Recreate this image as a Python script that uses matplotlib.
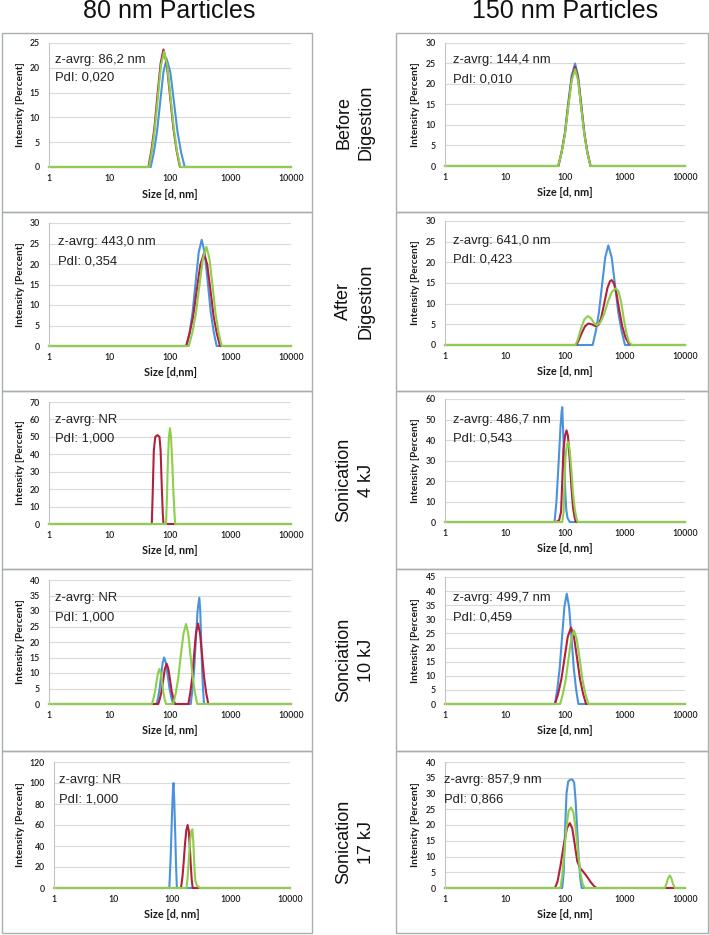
import matplotlib
matplotlib.use("Agg")
import matplotlib.pyplot as plt
from matplotlib.patches import Rectangle
from matplotlib.ticker import NullLocator, FixedLocator, FixedFormatter
from matplotlib import font_manager

# ---------------- data (size [d, nm], intensity [%]) ----------------
before80_blue = [(1, 0), (48, 0), (54, 2.9), (61, 7.1), (69, 13.2), (78, 19.2), (88, 21.8), (101, 19.2), (116, 13.2), (133, 7.1), (153, 2.9), (175, 0), (10000, 0)]
before80_red = [(1, 0), (44, 0), (49, 3.2), (55, 7.7), (62, 14.4), (70, 20.9), (78, 23.7), (88, 20.9), (100, 14.4), (114, 7.7), (129, 3.2), (146, 0), (10000, 0)]
before80_green = [(1, 0), (45, 0), (50, 3.1), (56, 7.6), (63, 14.1), (71, 20.5), (80, 23.3), (90, 20.5), (102, 14.1), (116, 7.6), (131, 3.1), (148, 0), (10000, 0)]

before150_blue = [(1, 0), (78, 0), (88, 3.4), (100, 8.1), (113, 15.2), (129, 22), (147, 25), (165, 22), (186, 15.2), (210, 8.1), (236, 3.4), (266, 0), (10000, 0)]
before150_red = [(1, 0), (77, 0), (87.5, 3.3), (99.5, 7.9), (113, 14.7), (129, 21.3), (147, 24.2), (165.5, 21.3), (186, 14.7), (210, 7.9), (236, 3.3), (266, 0), (10000, 0)]
before150_green = [(1, 0), (77, 0), (87.5, 3.2), (99.5, 7.7), (113, 14.3), (129, 20.8), (147, 23.6), (165.5, 20.8), (186, 14.3), (210, 7.7), (236, 3.2), (266, 0), (10000, 0)]

after80_blue = [(1, 0), (189, 0), (212, 3.5), (237, 8.4), (266, 15.7), (298, 22.8), (334, 25.9), (374, 22.8), (420, 15.7), (470, 8.4), (527, 3.5), (590, 0), (10000, 0)]
after80_red = [(1, 0), (184, 0), (211, 3.1), (242, 7.3), (277, 13.7), (318, 19.9), (365, 22.6), (412, 19.9), (466, 13.7), (525, 7.3), (593, 3.1), (670, 0), (10000, 0)]
after80_green = [(1, 0), (205, 0), (234, 3.3), (268, 7.9), (306, 14.7), (350, 21.3), (400, 24.2), (449, 21.3), (505, 14.7), (566, 7.9), (637, 3.3), (715, 0), (10000, 0)]

after150_blue = [(1, 0), (289, 0), (326, 3.3), (367, 7.8), (415, 14.6), (468, 21.2), (527, 24.1), (600, 21.2), (681, 14.6), (774, 7.8), (880, 3.3), (1000, 0), (10000, 0)]
after150_red = [(1, 0), (155, 0), (170, 1.2), (190, 2.9), (215, 4.5), (245, 5.2), (280, 5.0), (320, 4.6), (360, 4.8), (400, 6.5), (450, 10), (510, 13.8), (560, 15.4), (600, 15.7), (650, 15), (720, 12.5), (800, 8.5), (900, 4.5), (1020, 1.8), (1150, 0.4), (1280, 0), (10000, 0)]
after150_green = [(1, 0), (150, 0), (165, 1.5), (185, 4), (210, 6.2), (240, 7.0), (270, 6.5), (305, 5.3), (340, 4.8), (390, 5.5), (450, 7.5), (520, 10.5), (600, 12.8), (700, 13.7), (780, 13), (860, 10.5), (950, 6.5), (1050, 3), (1160, 0.8), (1280, 0), (10000, 0)]

soni4_80_blue = [(1, 0), (10000, 0)]
soni4_80_red = [(1, 0), (50, 0), (52, 20), (54, 42), (57, 50), (62, 51), (67, 50), (70, 42), (73, 22), (76, 6), (78, 0), (10000, 0)]
soni4_80_green = [(1, 0), (86, 0), (89, 15), (92, 35), (96, 50), (100, 55), (104, 50), (109, 35), (114, 18), (119, 5), (122, 0), (10000, 0)]

soni4_150_blue = [(1, 0), (67, 0), (72, 10), (78, 28), (84, 46), (88, 54), (90, 56), (93, 45), (97, 30), (101, 15), (105, 6), (110, 2), (120, 0), (10000, 0)]
soni4_150_red = [(1, 0), (72, 0), (80, 1), (86, 5), (90, 20), (94, 35), (100, 42), (106, 44.7), (112, 42), (120, 30), (128, 17), (136, 7), (145, 2), (152, 0), (10000, 0)]
soni4_150_green = [(1, 0), (90, 0), (95, 5), (98, 20), (102, 32), (108, 38), (114, 39), (120, 35), (128, 25), (136, 14), (146, 6), (156, 1.5), (163, 0), (10000, 0)]

soni10_80_blue = [(1, 0), (60, 0), (63.5, 2.0), (67.3, 4.9), (71.3, 9.1), (75.5, 13.2), (80, 15), (85.7, 13.2), (91.8, 9.1), (98.4, 4.9), (105.4, 2.0), (113, 0),
                  (220, 0), (235, 4.6), (251, 11.1), (267.5, 20.8), (286, 30.2), (305, 34.3), (316, 30.2), (327.5, 20.8), (339.5, 11.1), (352, 4.6), (365, 0), (10000, 0)]
soni10_80_red = [(1, 0), (64, 0), (68.2, 1.8), (72.6, 4.2), (77.4, 7.9), (82.4, 11.4), (88, 13), (93.7, 11.4), (100, 7.9), (106.4, 4.2), (113.5, 1.8), (121, 0),
                 (201, 0), (216, 3.5), (233, 8.5), (250, 15.8), (269, 22.9), (290, 26), (313, 22.9), (339, 15.8), (367, 8.5), (397, 3.5), (430, 0), (10000, 0)]
soni10_80_green = [(1, 0), (50, 0), (53, 1.5), (56.2, 3.7), (59.6, 6.9), (63.2, 9.9), (67, 11.3), (70.4, 9.9), (74, 6.9), (77.8, 3.7), (81.7, 1.5), (86, 0),
                   (113, 0), (124.5, 3.5), (137, 8.4), (151, 15.7), (167, 22.7), (184, 25.8), (200.5, 22.7), (218, 15.7), (238, 8.4), (259, 3.5), (282, 0), (10000, 0)]

soni10_150_blue = [(1, 0), (68, 0), (74.5, 5.3), (81.5, 12.7), (89.3, 23.7), (97.7, 34.4), (107, 39.1), (117, 34.4), (128, 23.7), (140, 12.7), (153, 5.3), (167, 0), (10000, 0)]
soni10_150_red = [(1, 0), (68, 0), (77, 3.7), (87, 8.8), (98.5, 16.4), (111, 23.8), (126, 27.1), (141, 23.8), (158.5, 16.4), (178, 8.8), (200, 3.7), (224, 0), (10000, 0)]
soni10_150_green = [(1, 0), (83, 0), (92, 3.5), (102.6, 8.5), (114, 15.8), (127, 23.0), (141, 26.1), (157, 23.0), (176, 15.8), (196, 8.5), (219, 3.5), (245, 0), (10000, 0)]

soni17_80_blue = [(1, 0), (90, 0), (95, 30), (100, 70), (104, 95), (106, 100), (109, 85), (113, 55), (117, 22), (121, 0), (10000, 0)]
soni17_80_red = [(1, 0), (142, 0), (150, 10), (158, 25), (166, 42), (175, 55), (184, 60), (192, 55), (200, 40), (208, 22), (216, 8), (224, 0), (10000, 0)]
soni17_80_green = [(1, 0), (176, 0), (184, 10), (193, 28), (203, 45), (212, 54), (221, 56), (229, 45), (236, 28), (243, 14), (250, 6), (265, 2.5), (285, 0.8), (298, 0), (10000, 0)]

soni17_150_blue = [(1, 0), (90, 0), (95, 5), (100, 18), (106, 30), (113, 33.8), (122, 34.4), (133, 34.4), (142, 33.5), (150, 28), (160, 18), (170, 9), (180, 3), (190, 0), (10000, 0)]
soni17_150_red = [(1, 0), (68, 0), (75, 2), (84, 7), (95, 13.5), (108, 19), (120, 20.6), (132, 19), (145, 14), (160, 8.5), (180, 6.2), (205, 5), (235, 3.5), (270, 1.8), (305, 0.6), (335, 0), (10000, 0)]
soni17_150_green = [(1, 0), (84, 0), (90, 4), (97, 11), (105, 19), (115, 24.5), (126, 25.5), (138, 24), (150, 19), (165, 11), (180, 5), (195, 1.5), (212, 0),
                    (4600, 0), (4900, 1.3), (5200, 3), (5600, 4.0), (5950, 3), (6300, 1.3), (6800, 0), (10000, 0)]

column_titles = ["80 nm Particles", "150 nm Particles"]
row_labels = ["Before\nDigestion", "After\nDigestion", "Sonication\n4 kJ", "Sonciation\n10 kJ", "Sonication\n17 kJ"]

zavg_80 = ["z-avrg: 86,2 nm", "z-avrg: 443,0 nm", "z-avrg: NR", "z-avrg: NR", "z-avrg: NR"]
pdi_80 = ["PdI: 0,020", "PdI: 0,354", "PdI: 1,000", "PdI: 1,000", "PdI: 1,000"]
zavg_150 = ["z-avrg: 144,4 nm", "z-avrg: 641,0 nm", "z-avrg: 486,7 nm", "z-avrg: 499,7 nm", "z-avrg: 857,9 nm"]
pdi_150 = ["PdI: 0,010", "PdI: 0,423", "PdI: 0,543", "PdI: 0,459", "PdI: 0,866"]

ymax_80 = [25, 30, 70, 40, 120]
ystep_80 = [5, 5, 10, 5, 20]
ymax_150 = [30, 30, 60, 45, 40]
ystep_150 = [5, 5, 10, 5, 5]

xlabels_80 = ["Size [d, nm]", "Size [d,nm]", "Size [d, nm]", "Size [d, nm]", "Size [d, nm]"]
xlabels_150 = ["Size [d, nm]"] * 5

x_ticks = [1, 10, 100, 1000, 10000]
x_ticklabels = ["1", "10", "100", "1000", "10000"]

curves_80 = [
    (before80_blue, before80_red, before80_green),
    (after80_blue, after80_red, after80_green),
    (soni4_80_blue, soni4_80_red, soni4_80_green),
    (soni10_80_blue, soni10_80_red, soni10_80_green),
    (soni17_80_blue, soni17_80_red, soni17_80_green),
]
curves_150 = [
    (before150_blue, before150_red, before150_green),
    (after150_blue, after150_red, after150_green),
    (soni4_150_blue, soni4_150_red, soni4_150_green),
    (soni10_150_blue, soni10_150_red, soni10_150_green),
    (soni17_150_blue, soni17_150_red, soni17_150_green),
]

# ---------------- styling / layout ----------------
W, H = 709, 935
COLORS = ["#4A93DC", "#B2203E", "#8DCF4A"]
avail = {f.name for f in font_manager.fontManager.ttflist}
TICKFONT = "Lato" if "Lato" in avail else "DejaVu Sans"
BIGFONT = "Liberation Sans" if "Liberation Sans" in avail else "DejaVu Sans"
ROWFONT = "Liberation Sans Narrow" if "Liberation Sans Narrow" in avail else BIGFONT

fig = plt.figure(figsize=(W / 100, H / 100), dpi=100)
fig.patch.set_facecolor("white")


def fx(px):
    return px / W


def fy(py):
    return 1 - py / H


seps = [33, 212, 391, 569, 751, 933]
left_boxes = [(49, 291, 43, 167), (49, 291, 223, 346), (49, 291, 402, 524), (49, 291, 580, 704), (54, 290, 762, 888)]
right_boxes = [(445, 685, 43, 166), (445, 685, 221, 345), (445, 685, 399, 522), (445, 685, 577, 704), (445, 685, 762, 888)]
text_off_80 = [(55, 60, 78), (58, 242, 261), (55, 420, 439), (55, 598, 618), (59, 780, 799)]
text_off_150 = [(453, 60, 79), (453, 241, 260), (453, 420, 439), (453, 598, 618), (444, 780, 799)]

# panel frames
for i in range(5):
    for (xa, xb) in [(2, 312), (396, 708)]:
        fig.add_artist(Rectangle((fx(xa), fy(seps[i + 1])), (xb - xa) / W, (seps[i + 1] - seps[i]) / H,
                                 transform=fig.transFigure, fill=False, edgecolor="#A9AEB0", lw=1.0))


def make_panel(box, curves, ymax, ystep, xlabel, zt, pt, toff, ylab_px):
    x0, x1, y0, y1 = box
    ax = fig.add_axes([fx(x0), fy(y1), (x1 - x0) / W, (y1 - y0) / H])
    ax.set_xscale("log")
    ax.set_xlim(1, 10000)
    ax.set_ylim(0, ymax)
    ax.xaxis.set_major_locator(FixedLocator(x_ticks))
    ax.xaxis.set_major_formatter(FixedFormatter(x_ticklabels))
    ax.xaxis.set_minor_locator(NullLocator())
    ax.set_yticks(list(range(0, ymax + 1, ystep)))
    ax.tick_params(length=0, labelsize=6.3, labelcolor="#1A1A1A")
    ax.tick_params(axis="y", pad=6.5)
    ax.tick_params(axis="x", pad=5)
    for lab in ax.get_xticklabels() + ax.get_yticklabels():
        lab.set_fontfamily(TICKFONT)
        lab.set_fontweight("semibold")
    for s in ["top", "right", "bottom"]:
        ax.spines[s].set_visible(False)
    ax.spines["left"].set_color("#C4C4C4")
    ax.spines["left"].set_linewidth(0.8)
    ax.grid(axis="y", color="#D9D9D9", lw=0.8)
    ax.set_axisbelow(True)
    for pts, c in zip(curves, COLORS):
        xs = [p[0] for p in pts]
        ys = [p[1] for p in pts]
        ax.plot(xs, ys, color=c, lw=1.5, clip_on=False, solid_joinstyle="round")
    ax.set_xlabel(xlabel, fontfamily=TICKFONT, fontweight="bold", fontsize=7.8, labelpad=4, color="#1A1A1A")
    ax.set_ylabel("Intensity [Percent]", fontfamily=TICKFONT, fontweight="bold", fontsize=7.3, color="#1A1A1A")
    ax.yaxis.set_label_coords((ylab_px - x0) / (x1 - x0), 0.5)
    tx, ty1, ty2 = toff
    fig.text(fx(tx), fy(ty1), zt, fontfamily=BIGFONT, fontsize=9.4, va="center", ha="left", color="#222222")
    fig.text(fx(tx), fy(ty2), pt, fontfamily=BIGFONT, fontsize=9.4, va="center", ha="left", color="#222222")
    return ax


for i in range(5):
    make_panel(left_boxes[i], curves_80[i], ymax_80[i], ystep_80[i], xlabels_80[i], zavg_80[i], pdi_80[i], text_off_80[i], 25)
    make_panel(right_boxes[i], curves_150[i], ymax_150[i], ystep_150[i], xlabels_150[i], zavg_150[i], pdi_150[i], text_off_150[i], 420)

# column titles
fig.text(fx(169), fy(11), column_titles[0], fontfamily=BIGFONT, fontsize=18, ha="center", va="center", color="#111111")
fig.text(fx(565), fy(11), column_titles[1], fontfamily=BIGFONT, fontsize=18, ha="center", va="center", color="#111111")

# row labels
for i in range(5):
    yc = (seps[i] + seps[i + 1]) / 2
    fig.text(fx(355), fy(yc), row_labels[i], fontfamily=ROWFONT, fontsize=13, rotation=90,
             ha="center", va="center", multialignment="center", linespacing=1.45, color="#111111")

fig.savefig("out.png", dpi=100, facecolor="white")
